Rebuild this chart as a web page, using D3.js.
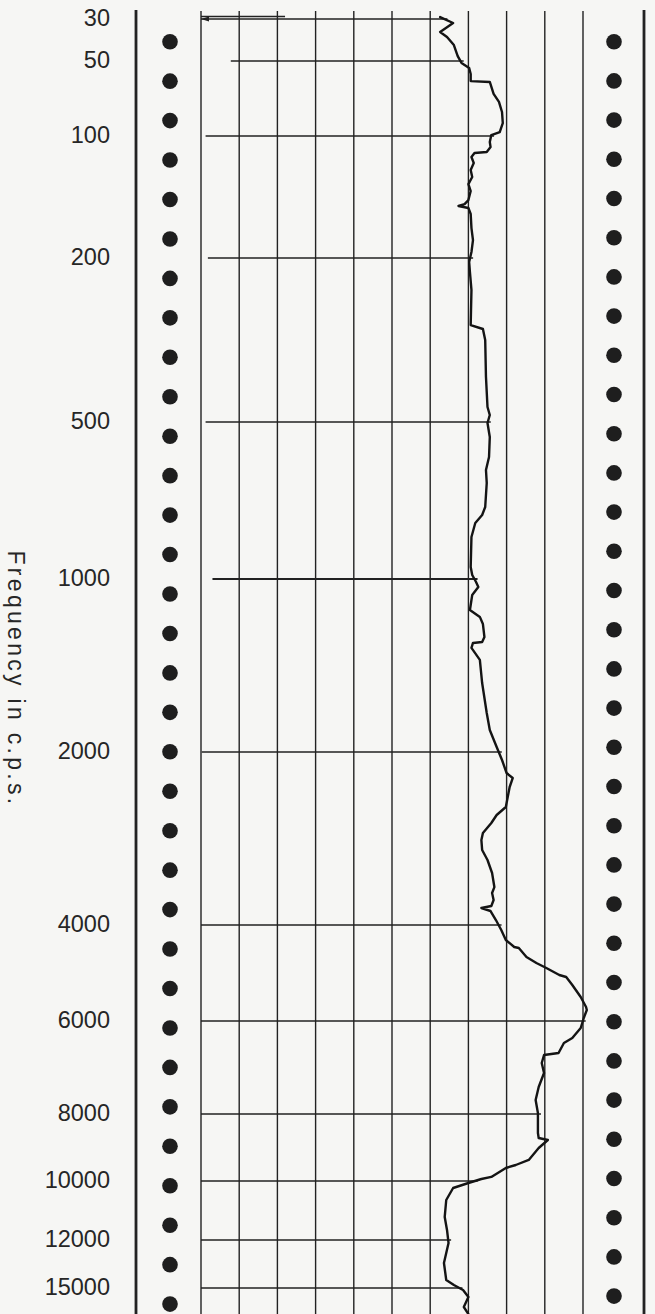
<!DOCTYPE html>
<html>
<head>
<meta charset="utf-8">
<script src="https://cdn.jsdelivr.net/npm/d3@7"></script>
<style>
  body { margin: 0; background: #f6f6f4; }
  svg { display: block; }
  .freqAxis text { font-family: "Liberation Sans", Arial, sans-serif; font-size: 23.5px; fill: #262626; }
  .title { font-family: "Liberation Sans", Arial, sans-serif; font-size: 23px; fill: #262626; letter-spacing: 3.3px; }
</style>
</head>
<body>
<div id="chart"></div>
<script>
//Frequencies written down the left side of the strip (c.p.s.)
var tickFreqs = [30, 50, 100, 200, 500, 1000, 2000, 4000, 6000, 8000, 10000, 12000, 15000];

//Level (dB) where the pen starts each frequency marker
var markStart = [0, 3.9, 0.6, 0.9, 0.6, 1.5, 0.1, 0, 0, 0, 0, 0, 0];

var curveFreq = [29.3, 31.5, 35.1, 37.3, 41.2, 47.1, 50.9, 53.3, 56.4, 60.2,
  60.7, 67.8, 73.0, 80.1, 88.7, 96.4, 99.1, 103.5, 106.5, 109.5,
  110.1, 112.7, 116.6, 121.3, 126.2, 131.4, 136.7, 143.9, 147.2, 148.8,
  150.5, 155.8, 168.7, 180.6, 193.3, 204.5, 216.3, 239.1, 290.9, 297.4,
  316.3, 388.9, 459.8, 480.9, 502.2, 534.2, 583.5, 618.0, 654.6, 727.7,
  753.9, 781.0, 830.7, 948.4, 982.4, 1012, 1033, 1066, 1132, 1164,
  1198, 1262, 1287, 1292, 1318, 1383, 1517, 1711, 1831, 1960,
  2065, 2176, 2220, 2301, 2493, 2574, 2658, 2767, 2846, 2962,
  3083, 3248, 3436, 3519, 3619, 3707, 3737, 3782, 3921, 4085,
  4262, 4389, 4408, 4579, 4696, 4796, 4940, 4982, 5153, 5422,
  5655, 5727, 5924, 6131, 6324, 6422, 6624, 6665, 6832, 7047,
  7358, 7660, 7975, 8522, 8666, 8724, 8959, 9324, 9481, 9576,
  9866, 9933, 10062, 10219, 10605, 11176, 11634, 12168, 13355, 14452,
  14792, 15140, 15640, 16386, 16932];

var curveLevel = [31.3, 33.0, 31.3, 32.2, 33.1, 33.6, 34.1, 35.1, 35.3, 35.3,
  37.8, 38.3, 39.0, 39.4, 39.5, 39.1, 38.0, 37.8, 37.9, 37.4,
  35.8, 35.4, 35.7, 35.3, 35.5, 35.0, 35.3, 35.0, 34.5, 33.7,
  35.0, 35.3, 35.4, 35.6, 35.4, 35.1, 35.2, 35.4, 35.3, 36.9,
  37.2, 37.3, 37.5, 37.8, 37.5, 37.8, 37.7, 37.3, 37.4, 37.2,
  36.8, 35.9, 35.4, 35.3, 35.5, 36.0, 36.3, 35.5, 35.2, 36.5,
  36.9, 37.1, 36.8, 35.6, 35.4, 36.5, 36.8, 37.4, 37.8, 38.7,
  39.4, 40.0, 40.8, 40.4, 39.9, 38.7, 38.0, 36.9, 36.7, 36.8,
  37.5, 38.1, 38.4, 38.1, 38.3, 38.0, 36.7, 37.9, 38.6, 39.3,
  39.9, 41.0, 41.6, 42.6, 43.9, 45.2, 46.9, 47.8, 48.6, 49.7,
  50.4, 50.5, 50.1, 49.7, 48.6, 47.5, 46.8, 44.9, 44.6, 44.9,
  44.2, 43.8, 44.1, 44.1, 44.2, 45.4, 44.2, 42.9, 41.2, 39.9,
  38.0, 36.7, 35.0, 33.0, 32.1, 31.9, 32.2, 32.4, 31.8, 32.1,
  33.1, 34.3, 35.0, 34.4, 35.0];

//Paper size
var width = 655;
var height = 1314;

//The sweep is not logarithmic on the paper, so each frequency mark was measured off the strip
var rowY = [19, 61, 136, 258, 422, 579, 752, 925, 1021, 1114, 1181, 1240, 1288];

//Level runs across the strip, 5 dB per division
var x = d3.scaleLinear().domain([0, 50]).range([201, 583]);
var y = d3.scaleLog().domain(tickFreqs).range(rowY);

var ink = "#222";

var svg = d3
  .select("#chart")
  .append("svg")
  .attr("width", width)
  .attr("height", height);

svg.append("rect")
  .attr("width", width)
  .attr("height", height)
  .attr("fill", "#f6f6f4");

//Thick border lines of the strip
svg.selectAll(".edge")
  .data([136, 644])
  .enter()
  .append("line")
  .attr("class", "edge")
  .attr("x1", function(d) { return d; })
  .attr("x2", function(d) { return d; })
  .attr("y1", 10)
  .attr("y2", height)
  .attr("stroke", ink)
  .attr("stroke-width", 2.8);

//Sprocket holes on both sides
var leftHoles = d3.range(33).map(function(i) { return 41.7 + i * 39.45; });
var rightHoles = d3.range(33).map(function(i) { return 41.7 + i * 39.2; });

svg.selectAll(".holeL")
  .data(leftHoles)
  .enter()
  .append("circle")
  .attr("class", "holeL")
  .attr("cx", 170)
  .attr("cy", function(d) { return d; })
  .attr("r", 7.8)
  .attr("fill", "#1e1e1e");

svg.selectAll(".holeR")
  .data(rightHoles)
  .enter()
  .append("circle")
  .attr("class", "holeR")
  .attr("cx", 614)
  .attr("cy", function(d) { return d; })
  .attr("r", 7.8)
  .attr("fill", "#1e1e1e");

//Vertical level grid
svg.selectAll(".vgrid")
  .data(x.ticks(10))
  .enter()
  .append("line")
  .attr("class", "vgrid")
  .attr("x1", function(d) { return x(d); })
  .attr("x2", function(d) { return x(d); })
  .attr("y1", 11)
  .attr("y2", height)
  .attr("stroke", ink)
  .attr("stroke-width", 1.4);

//Level of the trace at a given frequency (log interpolation)
function levelAt(f) {
  for (var i = 1; i < curveFreq.length; i++) {
    if (curveFreq[i] >= f) {
      var t = (Math.log(f) - Math.log(curveFreq[i - 1])) /
        (Math.log(curveFreq[i]) - Math.log(curveFreq[i - 1]));
      return curveLevel[i - 1] + t * (curveLevel[i] - curveLevel[i - 1]);
    }
  }
  return curveLevel[curveLevel.length - 1];
}

//Frequency markers, drawn from the start mark up to the trace
svg.selectAll(".mark")
  .data(tickFreqs)
  .enter()
  .append("line")
  .attr("class", "mark")
  .attr("x1", function(d, i) { return x(markStart[i]); })
  .attr("x2", function(d) { return x(levelAt(d) + 0.4); })
  .attr("y1", function(d) { return y(d); })
  .attr("y2", function(d) { return y(d); })
  .attr("stroke", ink)
  .attr("stroke-width", function(d) { return d === 1000 ? 1.8 : 1.3; });

//Start-of-run mark above the 30 c.p.s. line
svg.append("line")
  .attr("x1", x(0))
  .attr("x2", x(11))
  .attr("y1", y(30) - 2.5)
  .attr("y2", y(30) - 2.5)
  .attr("stroke", ink)
  .attr("stroke-width", 1.3);

svg.append("path")
  .attr("d", "M" + x(0) + "," + y(30) + "l8,-2.5l0,5z")
  .attr("fill", ink);

//The recorded trace
var trace = d3.line()
  .x(function(d) { return x(d[1]); })
  .y(function(d) { return y(d[0]); });

svg.append("path")
  .datum(d3.zip(curveFreq, curveLevel))
  .attr("d", trace)
  .attr("fill", "none")
  .attr("stroke", "#141414")
  .attr("stroke-width", 2.4)
  .attr("stroke-linejoin", "round")
  .attr("stroke-linecap", "round");

//Frequency labels
var yAxis = d3.axisLeft(y)
  .tickValues(tickFreqs)
  .tickSize(0)
  .tickPadding(0)
  .tickFormat(d3.format("d"));

svg.append("g")
  .attr("class", "freqAxis")
  .attr("transform", "translate(110,-1)")
  .call(yAxis)
  .call(function(g) { g.select(".domain").remove(); });

//Axis title, read from top to bottom
svg.append("text")
  .attr("class", "title")
  .attr("transform", "translate(8,679)rotate(90)")
  .attr("text-anchor", "middle")
  .text("Frequency in c.p.s.");
</script>
</body>
</html>
